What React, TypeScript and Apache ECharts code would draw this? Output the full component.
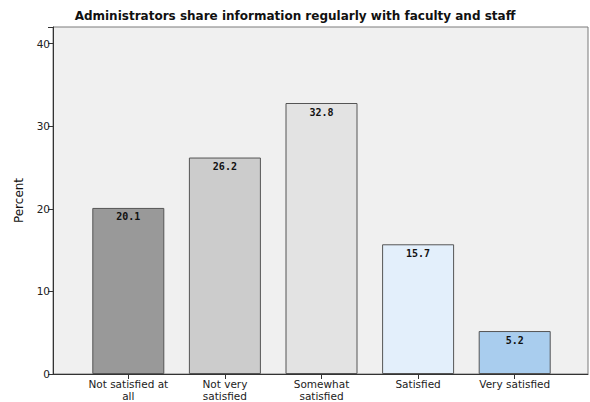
import React, { useEffect, useRef } from "react";
import * as echarts from "echarts";

const categories = ["Not satisfied at\nall", "Not very\nsatisfied", "Somewhat\nsatisfied", "Satisfied", "Very satisfied"];
const values = [20.1, 26.2, 32.8, 15.7, 5.2];
const barColors = ["#999999", "#cccccc", "#e3e3e3", "#e3effb", "#a9cdee"];
const yTicks = [0, 10, 20, 30, 40];

export default function App() {
  const ref = useRef<HTMLDivElement>(null);
  useEffect(() => {
    if (!ref.current) return;
    const chart = echarts.init(ref.current, null, { renderer: "svg" });
    const font = "DejaVu Sans";
    chart.setOption({
      animation: false,
      backgroundColor: "#ffffff",
      title: {
        text: "Administrators share information regularly with faculty and staff",
        left: "center",
        top: 5,
        textStyle: { fontFamily: font, fontSize: 12, fontWeight: "bold", color: "#111" },
      },
      grid: [
        { left: 53, right: 2, top: 27, bottom: 28, show: true, backgroundColor: "#f0f0f0", borderColor: "#7a7a7a", borderWidth: 1 },
        { left: 80, right: 27, top: 27, bottom: 28 },
      ],
      xAxis: [
        { type: "value", gridIndex: 0, min: 0, max: 1, axisLabel: { show: false }, axisTick: { show: false }, splitLine: { show: false }, axisLine: { show: true, lineStyle: { color: "#333", width: 1 } } },
        {
          type: "category",
          gridIndex: 1,
          data: categories,
          axisLine: { show: false },
          axisTick: { show: true, alignWithLabel: true, length: 5, lineStyle: { color: "#333" } },
          axisLabel: { interval: 0, fontFamily: font, fontSize: 10.5, color: "#222", lineHeight: 12, margin: 4 },
        },
      ],
      yAxis: [
        {
          type: "value",
          gridIndex: 0,
          min: 0,
          max: 42,
          interval: 10,
          name: "Percent",
          nameLocation: "middle",
          nameGap: 28,
          nameTextStyle: { fontFamily: font, fontSize: 12, color: "#111" },
          axisLine: { show: true, lineStyle: { color: "#333", width: 1 } },
          axisTick: { show: true, length: 5, lineStyle: { color: "#333" } },
          axisLabel: { fontFamily: font, fontSize: 10.5, color: "#222", margin: 3, formatter: (v: number) => (yTicks.includes(v) ? String(v) : "") },
          splitLine: { show: false },
        },
        { type: "value", gridIndex: 1, min: 0, max: 42, show: false, splitLine: { show: false } },
      ],
      series: [
        {
          type: "bar",
          xAxisIndex: 1,
          yAxisIndex: 1,
          barWidth: 72,
          data: values.map((v, i) => ({ value: v, itemStyle: { color: barColors[i], borderColor: "#555", borderWidth: 1 } })),
          label: {
            show: true,
            position: "insideTop",
            distance: 4,
            fontFamily: "DejaVu Sans Mono",
            fontWeight: "bold",
            fontSize: 10,
            color: "#111",
            formatter: (p: any) => p.value.toFixed(1),
          },
        },
      ],
    });
    return () => chart.dispose();
  }, []);
  return <div ref={ref} style={{ width: 590, height: 402, position: "absolute", left: 0, top: 0 }} />;
}
